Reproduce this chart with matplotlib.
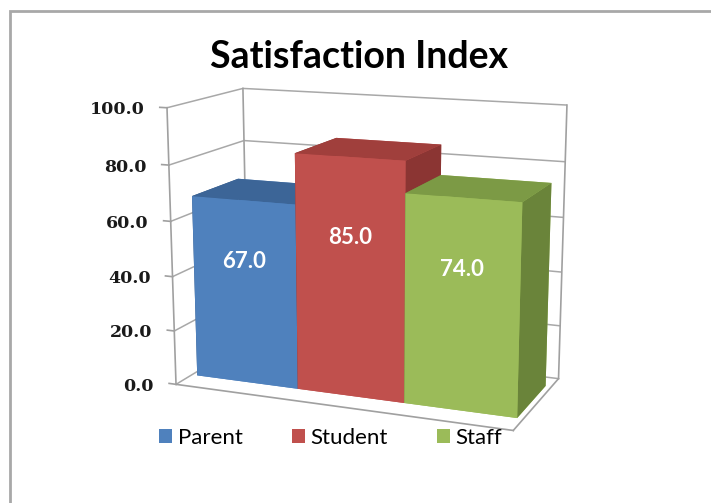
import matplotlib.pyplot as plt
from matplotlib.patches import Rectangle, Patch
from matplotlib.transforms import offset_copy

series = ['Parent', 'Student', 'Staff']
values = [67.0, 85.0, 74.0]
front_colors = ['#4F81BD', '#C0504D', '#9BBB59']
top_colors = ['#3C6597', '#A03F3C', '#7C9A45']
side_colors = ['#345782', '#8B3533', '#6A843A']
zticks = [0, 20, 40, 60, 80, 100]

W, H = 711, 503
fig = plt.figure(figsize=(W / 100, H / 100), dpi=100)

# outer chart border (runs off the right/bottom edges like the source)
fig.patches.append(Rectangle((10 / W, -0.1), 1.2, 1.1 - 11 / H, transform=fig.transFigure,
                             fill=False, edgecolor='#a8a8a8', linewidth=2))

# camera / box settings fitted to the excel 3-D look
ax = fig.add_axes([0.1795, 0.0305, 0.6591, 0.9317], projection='3d')
gap = 0.0534          # side gap of the series cluster
d0, d1 = 0.2058, 0.8304  # bar depth span
xmax = len(values) + 2 * gap
grey = '#a0a0a0'

for i, v in enumerate(values):
    fc, tc, sc = front_colors[i], top_colors[i], side_colors[i]
    # faces: bottom, top, front, back, left, right
    ax.bar3d(gap + i, d0, 0, 1, d1 - d0, v,
             color=[fc, tc, fc, fc, sc, sc], shade=False, edgecolor='none')
    ax.text(gap + i + 0.5, d0, v * 0.67, f'{v:.1f}', color='white', fontsize=16,
            fontweight='bold', family='Lato', ha='center', va='center', zorder=20)

# walls / floor outline
ax.plot([0, 0], [0, 0], [0, 100], color=grey, lw=1.2)
ax.plot([0, 0], [1, 1], [0, 100], color=grey, lw=1.2)
ax.plot([xmax, xmax], [1, 1], [0, 100], color=grey, lw=1.2)
ax.plot([0, xmax], [0, 0], [0, 0], color=grey, lw=1.2)
ax.plot([xmax, xmax], [0, 1], [0, 0], color=grey, lw=1.2)

# value axis ticks + labels on the front-left edge
lab_tr = offset_copy(ax.transData, fig=fig, x=-22, y=-2, units='dots')
for t in zticks:
    ax.plot([-0.07, 0], [0, 0], [t, t], color=grey, lw=1.2)
    ax.text(0, 0, t, f'{t:.1f}', ha='right', va='center', family='DejaVu Serif',
            fontweight='bold', fontsize=12.5, color='#1a1a1a', transform=lab_tr)

ax.set_xticks([])
ax.set_yticks([])
ax.set_zticks(zticks)
ax.set_zticklabels([])
ax.tick_params(axis='z', colors=(0, 0, 0, 0))
ax.zaxis.set_tick_params(label1On=False, label2On=False)
for a in (ax.xaxis, ax.yaxis, ax.zaxis):
    a.set_pane_color((1, 1, 1, 0))
    a.pane.set_edgecolor('none')
    a.line.set_color('none')
    a.label.set_visible(False)
    a._axinfo['grid'].update(color='#a8a8a8', linewidth=1.1)

ax.set_xlim(0, xmax)
ax.set_ylim(0, 1)
ax.set_zlim(0, 100)
ax.set_box_aspect((2.184, 1.0, 1.7337))
ax.view_init(elev=13.30, azim=-67.95, roll=0.04)
ax.set_proj_type('persp', focal_length=0.5752)

fig.text(0.505, 0.887, 'Satisfaction Index', ha='center', va='center',
         family='Lato', fontweight='bold', fontsize=27)

handles = [Patch(facecolor=c, edgecolor='none') for c in front_colors]
fig.legend(handles, series, loc='center left', bbox_to_anchor=(159 / W, 0.129), ncol=3,
           frameon=False, prop={'family': 'Lato', 'size': 16}, borderpad=0, borderaxespad=0,
           handlelength=0.6, handleheight=0.6, handletextpad=0.25, columnspacing=2.2)

fig.savefig('out.png', dpi=100)
